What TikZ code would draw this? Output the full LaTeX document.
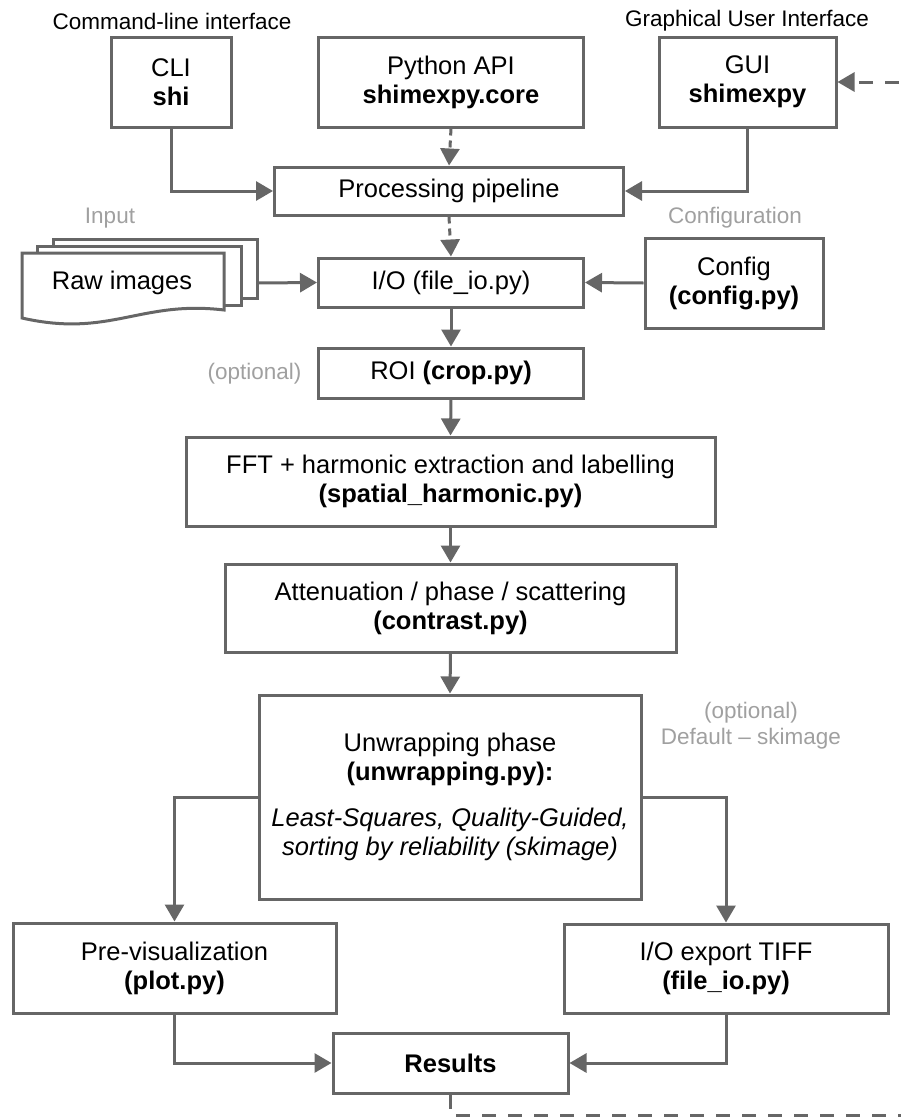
\documentclass[tikz,border=0pt]{standalone}
\usepackage{fontspec}
\setmainfont{Liberation Sans}
\usetikzlibrary{arrows.meta}
\definecolor{lineg}{HTML}{666666}
\definecolor{noteg}{HTML}{A0A0A0}
\tikzset{
    box/.style={draw=lineg, line width=3pt, fill=white, align=center, inner sep=0pt, font=\fontsize{25.5}{29}\selectfont},
    link/.style={draw=lineg, line width=3pt, -{Triangle[length=17pt,width=19pt]}},
    dlink/.style={link, dash pattern=on 7pt off 5pt},
    rlink/.style={link, dash pattern=on 14pt off 12pt},
    note/.style={font=\fontsize{22.5}{26}\selectfont},
    gnote/.style={note, text=noteg},
}

\begin{document}
\begin{tikzpicture}[x=1pt,y=-1pt]
		\path[use as bounding box, clip] (0,0) rectangle (901,1117);
		% top row
		\node[note] (clinote) at (172,21) {Command-line interface};
		\node[note] (guinote) at (747,21) {Graphical User Interface};
		\node[box, minimum width=120pt, minimum height=90pt] (cli) at (171,82) {CLI\\\textbf{shi}};
		\node[box, minimum width=265pt, minimum height=90pt] (api) at (451,82) {Python API\\\textbf{shimexpy.core}};
		\node[box, minimum width=177pt, minimum height=90pt] (gui) at (747.5,82) {GUI\\\textbf{shimexpy}};
		\node[box, minimum width=349pt, minimum height=48pt] (pipe) at (449,191) {Processing pipeline};
		% input / config
		\node[gnote] (innote) at (110,218) {Input};
		\node[gnote] (cfgnote) at (735,218) {Configuration};
		\foreach \x / \y in {53/239,37/246} \draw[lineg, line width=3pt, fill=white] (\x,\y) rectangle ++(204,59);
		\draw[lineg, line width=3pt, fill=white] (22,253) -- (224,253) -- (224,310) .. controls (140,300) and (110,338) .. (22,318) -- cycle;
		\node[font=\fontsize{25.5}{29}\selectfont] (raw) at (122,283) {Raw images};
		\coordinate (rawout) at (257,283);
		\node[box, minimum width=265pt, minimum height=49pt] (io) at (451,282.5) {I/O (file\_io.py)};
		\node[box, minimum width=178pt, minimum height=90pt] (cfg) at (734,283) {Config\\\textbf{(config.py)}};
		% processing chain
		\node[gnote, anchor=east] (optnote) at (305,374) {(optional)};
		\node[box, minimum width=265pt, minimum height=50pt] (roi) at (451,373) {ROI \textbf{(crop.py)}};
		\node[box, minimum width=529pt, minimum height=89pt] (fft) at (450.5,481.5) {FFT + harmonic extraction and labelling\\\textbf{(spatial\_harmonic.py)}};
		\node[box, minimum width=451pt, minimum height=88pt] (con) at (450.5,608) {Attenuation / phase / scattering\\\textbf{(contrast.py)}};
		\node[box, minimum width=382pt, minimum height=204pt] (unw) at (450,797) {Unwrapping phase\\\textbf{(unwrapping.py):}\\[17pt]\textit{Least-Squares, Quality-Guided,}\\\textit{sorting by reliability (skimage)}};
		\node[gnote, align=center] (defnote) at (751,726) {(optional)\\Default – skimage};
		\node[box, minimum width=323pt, minimum height=90pt] (prev) at (174.5,968) {Pre-visualization\\\textbf{(plot.py)}};
		\node[box, minimum width=324pt, minimum height=89pt] (tiff) at (726,968.5) {I/O export TIFF\\\textbf{(file\_io.py)}};
		\node[box, minimum width=235pt, minimum height=60pt] (res) at (450.5,1063) {\textbf{Results}};
		% connectors
		\draw[link] (cli.south) |- (pipe.west);
		\draw[link] (gui.south) |- (pipe.east);
		\draw[dlink] (api.south) -- (pipe.north);
		\draw[dlink] (pipe.south) -- (io.north);
		\draw[link] (rawout) -- (io.west);
		\draw[link] (cfg.west) -- (io.east);
		\draw[link] (io.south) -- (roi.north);
		\draw[link] (roi.south) -- (fft.north);
		\draw[link] (fft.south) -- (con.north);
		\draw[link] (con.south) -- (unw.north);
		\draw[link] (unw.west) -| (prev.north);
		\draw[link] (unw.east) -| (tiff.north);
		\draw[link] (prev.south) |- (res.west);
		\draw[link] (tiff.south) |- (res.east);
		\coordinate (loopb) at (915,1115);
		\draw[rlink] (res.south) |- (loopb) |- (gui.east);
	\end{tikzpicture}
\end{document}
